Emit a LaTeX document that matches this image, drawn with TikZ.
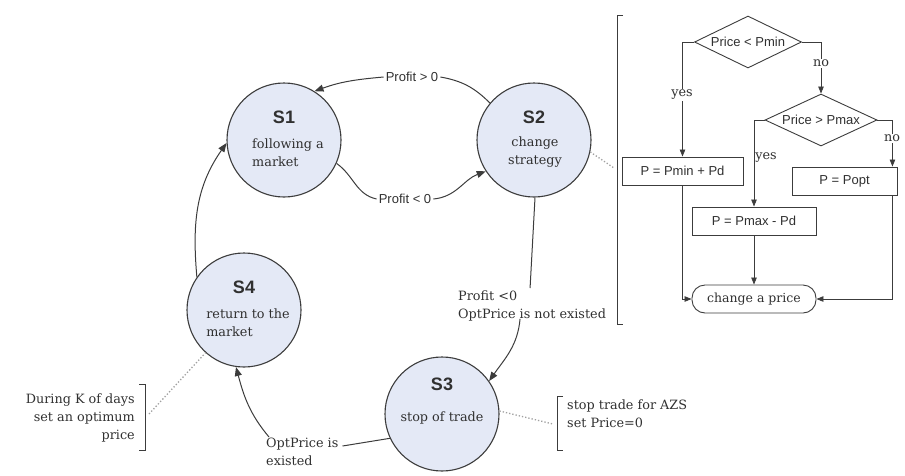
\documentclass[tikz,border=0pt]{standalone}
\usepackage{fontspec}
\setmainfont{DejaVu Serif}
\setsansfont{Liberation Sans}
\usetikzlibrary{arrows.meta,shapes.geometric}
\definecolor{linec}{HTML}{3C3C3C}
\definecolor{fillc}{HTML}{E4E9F6}
\definecolor{txtc}{HTML}{303030}
\definecolor{dotc}{HTML}{A0A0A0}
\begin{document}
\begin{tikzpicture}[x=1pt,y=-1pt,
  stnode/.style={circle,draw=linec,fill=fillc,line width=1.1pt,minimum size=114pt,inner sep=0pt},
  stlab/.style={font=\sffamily\bfseries\fontsize{18}{20}\selectfont,text=txtc,inner sep=0pt},
  sertxt/.style={font=\fontsize{12.8}{18}\selectfont,text=txtc,inner sep=1pt},
  sanstxt/.style={font=\sffamily\fontsize{13}{16}\selectfont,text=txtc,inner sep=2pt},
  arr/.style={draw=linec,line width=1pt,-{Triangle[length=9pt,width=7pt]}},
  ln/.style={draw=linec,line width=1pt},
  dots/.style={draw=dotc,line width=1.3pt,dotted},
  brk/.style={draw=linec,line width=1pt},
  fbox/.style={draw=linec,line width=0.9pt,rectangle,minimum height=28pt,inner sep=0pt,fill=white,font=\sffamily\fontsize{13}{16}\selectfont,text=txtc},
  dia/.style={draw=linec,line width=0.9pt,diamond,aspect=2.1,inner sep=0pt,fill=white,minimum height=52pt,font=\sffamily\fontsize{13}{16}\selectfont,text=txtc},
  farr/.style={draw=linec,line width=0.8pt,-{Triangle[length=7pt,width=5.5pt]}}
]
\useasboundingbox (0,0) rectangle (905,475);

% states
\node[stnode] (s1) at (284,140) {};
\node[stlab] (s1h) at (284,117) {S1};
\node[sertxt,align=left] (s1t) at (288,153) {following a\\market};

\node[stnode] (s2) at (534,140) {};
\node[stlab] (s2h) at (534,117) {S2};
\node[sertxt,align=center] (s2t) at (535,152) {change\\strategy};

\node[stnode] (s4) at (244,310) {};
\node[stlab] (s4h) at (244,287) {S4};
\node[sertxt,align=left] (s4t) at (248,323) {return to the\\market};

\node[stnode] (s3) at (442,414) {};
\node[stlab] (s3h) at (442,384) {S3};
\node[sertxt] (s3t) at (442,418) {stop of trade};

% edge labels
\node[sanstxt] (l1) at (412,77) {Profit > 0};
\node[sanstxt] (l2) at (405,199) {Profit < 0};
\node[sertxt,align=left,anchor=north west] (l3) at (457,290) {Profit <0\\OptPrice is not existed};
\node[sertxt,align=left,anchor=north west] (l4) at (265,437) {OptPrice is\\existed};

% edges
\draw[ln] (s2.140) to[out=135,in=-10] (l1.east);
\draw[arr] (l1.west) to[out=185,in=20] (s1.58);
\draw[ln] (s1.-24) to[out=-35,in=168] (l2.west);
\draw[arr] (l2.east) to[out=5,in=200] (s2.213);
\draw[ln] (s2.271) -- ([xshift=-2pt,yshift=2pt]l3.north);
\draw[arr] ([xshift=-12pt,yshift=4pt]l3.south) to[out=-95,in=55] (s3.35);
\draw[ln] (s3.205) -- ([xshift=3pt,yshift=-9pt]l4.north east);
\draw[arr] ([xshift=4pt]l4.north west) to[out=130,in=-75] (s4.-98);
\draw[arr] (s4.145) to[out=95,in=235] (s1.183);

% annotations
\node[sertxt,align=right,anchor=east] (a4) at (136,418) {During K of days\\set an optimum\\price};
\draw[brk] (139,384) -- (145,384) -- (145,450) -- (139,450);
\coordinate (bk4) at (149,414);
\draw[dots] (bk4) -- (s4.228);

\node[sertxt,align=left,anchor=west] (a3) at (566,414) {stop trade for AZS\\set Price=0};
\draw[brk] (563,396) -- (557,396) -- (557,450) -- (563,450);
\coordinate (bk3) at (553,424);
\draw[dots] (s3.3) -- (bk3);

\draw[brk] (623,15) -- (617,15) -- (617,324) -- (623,324);
\coordinate (bk2) at (614,168);
\draw[dots] (s2.-12) -- (bk2);

% flowchart
\node[dia,minimum width=107pt] (d1) at (748,42) {Price < Pmin};
\node[dia,minimum width=112pt] (d2) at (821,120) {Price > Pmax};
\node[fbox,minimum width=121pt] (b1) at (682.5,171) {P = Pmin + Pd};
\node[fbox,minimum width=124pt] (b2) at (754,221) {P = Pmax - Pd};
\node[fbox,minimum width=105pt] (b3) at (844.5,181) {P = Popt};
\node[fbox,rounded corners=13pt,minimum width=124pt,font=\fontsize{12.5}{16}\selectfont] (t) at (754,299) {change a price};

\draw[farr] (d1.west) -| (b1.north);
\draw[farr] (d1.east) -| (d2.north);
\draw[farr] (d2.west) -| (b2.north);
\draw[farr] (d2.east) -| ([xshift=-5pt]b3.north east);
\draw[farr] (b1.south) |- (t.west);
\draw[farr] (b2.south) -- (t.north);
\draw[farr] ([xshift=-5pt]b3.south east) |- (t.east);

\node[sertxt,fill=white] (y1) at (682,95) {yes};
\node[sertxt,fill=white] (n1) at (821,63) {no};
\node[sertxt] (y2) at (766,158) {yes};
\node[sertxt,fill=white] (n2) at (892,138) {no};
\end{tikzpicture}
\end{document}
